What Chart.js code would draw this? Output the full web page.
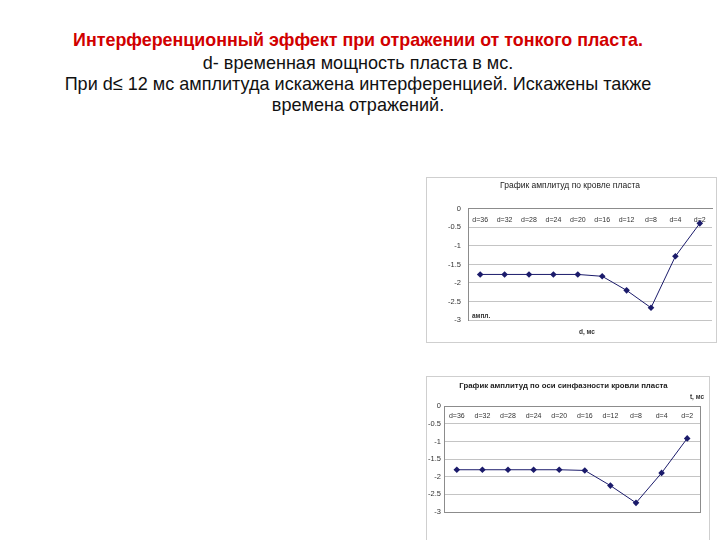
<!DOCTYPE html>
<html lang="ru">
<head>
<meta charset="utf-8">
<script src="https://cdn.jsdelivr.net/npm/chart.js@4.4.0/dist/chart.umd.min.js"></script>
<style>
html, body { margin: 0; padding: 0; background: #fff; }
body { width: 720px; height: 540px; position: relative; overflow: hidden;
       font-family: "Liberation Sans", Arial, sans-serif; }
.line { position: absolute; left: 0; width: 716px; text-align: center; font-size: 19px;
        line-height: 22px; color: #111; white-space: nowrap;
        transform: scaleX(0.95); transform-origin: 358px 0; }
#head { top: 29px; color: #d10000; font-weight: bold; transform: scaleX(0.94); }
#l2 { top: 52px; }
#l3 { top: 73px; }
#l4 { top: 94px; }
.frame { position: absolute; border: 1px solid #cfcfcf; background: #fff; box-sizing: border-box; }
#box1 { left: 426px; top: 177px; width: 291px; height: 166px; }
#box2 { left: 426px; top: 376px; width: 284px; height: 170px; }
canvas { display: block; }
</style>
</head>
<body>
<div class="line" id="head">Интерференционный эффект при отражении от тонкого пласта.</div>
<div class="line" id="l2">d- временная мощность пласта в мс.</div>
<div class="line" id="l3">При d≤ 12 мс амплитуда искажена интерференцией. Искажены также</div>
<div class="line" id="l4">времена отражений.</div>

<div class="frame" id="box1"><canvas id="roof-canvas" width="289" height="164"></canvas></div>
<div class="frame" id="box2"><canvas id="phase-canvas" width="282" height="168"></canvas></div>

<script>
// thickness of the layer, ms
const categories = ['d=36', 'd=32', 'd=28', 'd=24', 'd=20', 'd=16', 'd=12', 'd=8', 'd=4', 'd=2'];
// amplitude along the layer top
const roofAmplitudes = [-1.77, -1.77, -1.77, -1.77, -1.77, -1.82, -2.2, -2.67, -1.28, -0.39];
// amplitude along the in-phase axis of the layer top
const phaseAmplitudes = [-1.8, -1.8, -1.8, -1.8, -1.8, -1.82, -2.25, -2.74, -1.89, -0.91];
const yMin = -3;
const yMax = 0;
const yStep = 0.5;

const markColor = '#1b1b6b';
const gridColor = '#c4c4c4';
const textColor = '#333';

// extra captions Excel put inside the chart
const captionPlugin = {
    id: 'captions',
    afterDraw(chart, args, opts) {
        const ctx = chart.ctx;
        const area = chart.chartArea;
        ctx.save();
        if (opts.box) {
            ctx.strokeStyle = '#8c8c8c';
            ctx.lineWidth = 1;
            ctx.strokeRect(Math.round(area.left) + 0.5, Math.round(area.top) + 0.5,
                Math.round(area.right - area.left), Math.round(area.bottom - area.top));
        }
        ctx.fillStyle = textColor;
        (opts.items || []).forEach(item => {
            ctx.font = item.font;
            ctx.textAlign = item.align;
            ctx.textBaseline = 'middle';
            const x = item.from === 'right' ? area.right + item.dx :
                      item.from === 'center' ? (area.left + area.right) / 2 + item.dx : area.left + item.dx;
            const y = item.fromY === 'top' ? area.top + item.dy : area.bottom + item.dy;
            ctx.fillText(item.text, x, y);
        });
        ctx.restore();
    }
};

function makeChart(canvasId, values, setup) {
    const ctx = document.getElementById(canvasId).getContext('2d');
    return new Chart(ctx, {
        type: 'line',
        data: {
            labels: categories,
            datasets: [{
                data: values,
                borderColor: markColor,
                borderWidth: 1,
                backgroundColor: markColor,
                pointStyle: 'rectRot',
                pointRadius: 3.3,
                pointBorderWidth: 0,
                tension: 0
            }]
        },
        options: {
            responsive: false,
            animation: false,
            locale: 'en-US',
            layout: { padding: setup.padding },
            scales: {
                x: {
                    type: 'category',
                    position: { y: 0 },
                    offset: true,
                    grid: { display: false, drawTicks: false },
                    border: { display: true, color: '#8c8c8c' },
                    ticks: {
                        color: textColor,
                        font: { family: 'Liberation Sans', size: 7 },
                        padding: setup.xPad,
                        maxRotation: 0,
                        autoSkip: false
                    }
                },
                y: {
                    min: yMin,
                    max: yMax,
                    afterFit: function(scale) { scale.width = setup.yWidth; },
                    grid: { color: gridColor, drawTicks: false },
                    border: { display: true, color: '#8c8c8c' },
                    ticks: {
                        stepSize: yStep,
                        color: textColor,
                        padding: setup.yPad,
                        font: { family: 'Liberation Sans', size: 7.5 },
                        callback: value => String(value)
                    }
                }
            },
            plugins: {
                legend: { display: false },
                tooltip: { enabled: false },
                title: {
                    display: true,
                    text: setup.title,
                    color: '#222',
                    font: { family: 'Liberation Sans', size: setup.titleSize, weight: setup.titleWeight },
                    padding: setup.titlePad
                },
                captions: setup.captions
            }
        },
        plugins: [captionPlugin]
    });
}

makeChart('roof-canvas', roofAmplitudes, {
    title: 'График амплитуд по кровле пласта',
    titleSize: 8.5,
    titleWeight: 'normal',
    titlePad: { top: 3, bottom: 17.7 },
    padding: { left: 0, right: 3, top: 0, bottom: 22 },
    yWidth: 41,
    yPad: 7,
    xPad: 7,
    captions: {
        box: false,
        items: [
            { text: 'ампл.', font: 'bold 6.5px "Liberation Sans"', align: 'left', from: 'left', dx: 4, fromY: 'bottom', dy: -4 },
            { text: 'd, мс', font: 'bold 6.5px "Liberation Sans"', align: 'center', from: 'center', dx: -3, fromY: 'bottom', dy: 12 }
        ]
    }
});

makeChart('phase-canvas', phaseAmplitudes, {
    title: 'График амплитуд по оси синфазности кровли пласта',
    titleSize: 7.8,
    titleWeight: 'bold',
    titlePad: { top: 4, bottom: 16 },
    padding: { left: 0, right: 9, top: 0, bottom: 33 },
    yWidth: 17,
    yPad: 3,
    xPad: 6,
    captions: {
        box: true,
        items: [
            { text: 't, мс', font: 'bold 6.5px "Liberation Sans"', align: 'right', from: 'right', dx: 4, fromY: 'top', dy: -9 }
        ]
    }
});
</script>
</body>
</html>
